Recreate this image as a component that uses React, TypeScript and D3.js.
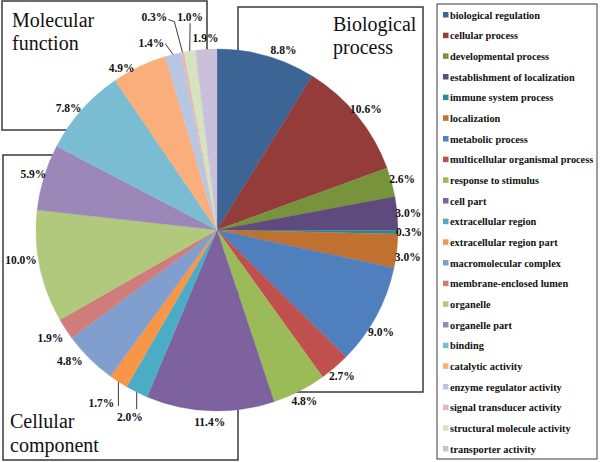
import React from "react";
import * as d3 from "d3";

const categories = [
  "biological regulation",
  "cellular process",
  "developmental process",
  "establishment of localization",
  "immune system process",
  "localization",
  "metabolic process",
  "multicellular organismal process",
  "response to stimulus",
  "cell part",
  "extracellular region",
  "extracellular region part",
  "macromolecular complex",
  "membrane-enclosed lumen",
  "organelle",
  "organelle part",
  "binding",
  "catalytic activity",
  "enzyme regulator activity",
  "signal transducer activity",
  "structural molecule activity",
  "transporter activity",
];

const values = [8.8, 10.6, 2.6, 3.0, 0.3, 3.0, 9.0, 2.7, 4.8, 11.4, 2.0, 1.7, 4.8, 1.9, 10.0, 5.9, 7.8, 4.9, 1.4, 0.3, 1.0, 1.9];

const colors = [
  "#3C6596", "#943C3A", "#77933C", "#5F4A7E", "#31859B", "#C0712F",
  "#4F7FBD", "#C0504D", "#9BBB59", "#7E62A0", "#4BACC6", "#F79646",
  "#809FCF", "#CF7D7B", "#B0C97D", "#9C88B8", "#7ABCD1", "#F9AE7B",
  "#B7C7E2", "#E5B9B8", "#D5E3BF", "#CBC0D9",
];

// layout tweaks for label placement (pixels)
const labelNudge: Record<number, [number, number]> = {
  0: [14, 5],
  5: [0, 5],
  6: [-5, 11],
  10: [-2, 15],
  11: [-11, 12],
  12: [-12, -5],
  13: [-6, 3],
  14: [-8, -9],
  16: [-5, 6],
  17: [-13, 11],
  18: [-19, -1],
  19: [-26, -25],
  20: [2, -23],
};

const W = 600;
const H = 462;
const cx = 217;
const cy = 230;
const R = 181;

export default function App() {
  const pie = d3.pie<number>().sort(null).value((d) => d).startAngle(0).endAngle(2 * Math.PI);
  const arcs = pie(values);
  const arc = d3.arc<d3.PieArcDatum<number>>().innerRadius(0).outerRadius(R);
  const labelArc = d3.arc<d3.PieArcDatum<number>>().innerRadius(R + 11).outerRadius(R + 11);
  const edgeArc = d3.arc<d3.PieArcDatum<number>>().innerRadius(R).outerRadius(R);

  const legendY = d3.scaleLinear().domain([0, categories.length - 1]).range([15, 449]);

  const boxStroke = "#3a3a3a";
  const labelFont = "'Liberation Serif', 'Times New Roman', serif";

  return (
    <svg width={W} height={H} style={{ position: "absolute", left: 0, top: 0, background: "#fff" }}>
      {/* group boxes */}
      <g fill="none" stroke={boxStroke} strokeWidth={1.5}>
        <rect x={2} y={1} width={205} height={129} />
        <rect x={238} y={7} width={185} height={385} />
        <rect x={3} y={155} width={235} height={305} />
      </g>
      <g fontFamily={labelFont} fontSize={20} fill="#111">
        <text x={12} y={27}>Molecular</text>
        <text x={12} y={50}>function</text>
        <text x={333} y={31}>Biological</text>
        <text x={333} y={54}>process</text>
        <text x={10} y={428}>Cellular</text>
        <text x={10} y={452}>component</text>
      </g>

      {/* pie */}
      <g transform={`translate(${cx},${cy})`}>
        {arcs.map((a, i) => (
          <path key={i} d={arc(a) || ""} fill={colors[i]} stroke={colors[i]} strokeWidth={0.3} />
        ))}
        {arcs.map((a, i) => {
          const [bx, by] = labelArc.centroid(a);
          const [nx, ny] = labelNudge[i] || [0, 0];
          const lx = bx + nx;
          const ly = by + ny;
          const [ex, ey] = edgeArc.centroid(a);
          let pts: [number, number][] | null = null;
          if (i === 10) pts = [[ex, ey], [ex, ly - 8]];
          if (i === 11) pts = [[ex, ey], [ex, ly + 3]];
          if (i === 18) pts = [[lx + 14, ly + 1], [ex, ey]];
          if (i === 19) pts = [[lx + 14, ly + 3], [lx + 20, ly + 5], [ex, ey]];
          if (i === 20) pts = [[lx, ly + 6], [ex, ey]];
          return (
            <g key={"l" + i}>
              {pts && (
                <path d={d3.line()(pts) || ""} fill="none" stroke="#222" strokeWidth={0.9} />
              )}
              <text
                x={lx}
                y={ly}
                textAnchor="middle"
                dominantBaseline="central"
                fontFamily={labelFont}
                fontWeight="bold"
                fontSize={11.5}
                fill="#111"
              >
                {values[i].toFixed(1) + "%"}
              </text>
            </g>
          );
        })}
      </g>

      {/* legend */}
      <rect x={437} y={4} width={160} height={455} fill="#fff" stroke={boxStroke} strokeWidth={1} />
      {categories.map((c, i) => (
        <g key={"g" + i} transform={`translate(0,${legendY(i)})`}>
          <rect x={443} y={-3} width={5.5} height={5.5} fill={colors[i]} />
          <text
            x={450}
            y={0}
            dominantBaseline="central"
            fontFamily={labelFont}
            fontWeight="bold"
            fontSize={10.3}
            fill="#111"
          >
            {c}
          </text>
        </g>
      ))}
    </svg>
  );
}
